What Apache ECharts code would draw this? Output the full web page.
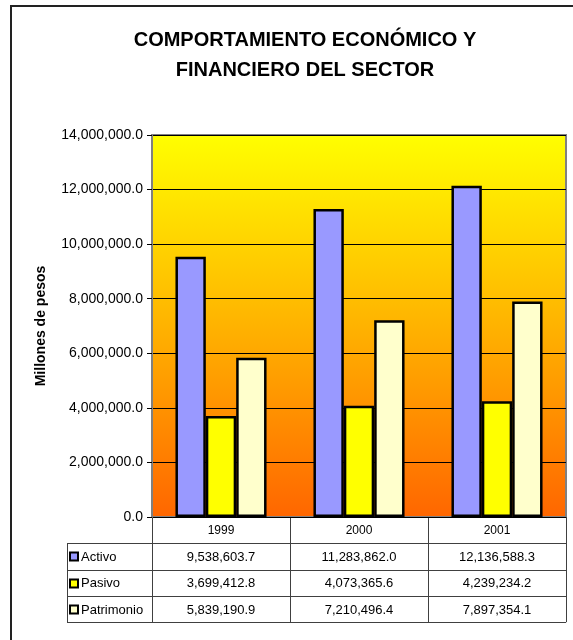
<!DOCTYPE html>
<html>
<head>
<meta charset="utf-8">
<script src="https://cdn.jsdelivr.net/npm/echarts@6/dist/echarts.min.js"></script>
<style>
html,body{margin:0;padding:0;background:#fff;}
#main{width:573px;height:640px;}
</style>
</head>
<body>
<div id="main"></div>
<script>
// ---- data ----
const categories = ['1999', '2000', '2001'];
const seriesNames = ['Activo', 'Pasivo', 'Patrimonio'];
const activo = [9538603.7, 11283862.0, 12136588.3];
const pasivo = [3699412.8, 4073365.6, 4239234.2];
const patrimonio = [5839190.9, 7210496.4, 7897354.1];
const titleLines = ['COMPORTAMIENTO ECONÓMICO Y', 'FINANCIERO DEL SECTOR'];
const yAxisName = 'Millones de pesos';
const yMin = 0, yMax = 14000000, yStep = 2000000;

// ---- styles / layout ----
const colors = ['#9999FF', '#FFFF00', '#FFFFCC'];
const FONT = '"Liberation Sans", Arial, sans-serif';
const G = { left: 152, top: 135, right: 566, bottom: 517 };
const rowH = 26.3;
const tableLeft = 67;

function fmt(v) {
  return v.toLocaleString('en-US', { minimumFractionDigits: 1, maximumFractionDigits: 1 });
}

const chart = echarts.init(document.getElementById('main'), null, { renderer: 'canvas' });
const seriesData = [activo, pasivo, patrimonio];

const graphics = [];
// outer border
graphics.push({ type: 'rect', shape: { x: 11, y: 6, width: 620, height: 700 },
  style: { fill: 'none', stroke: '#222', lineWidth: 2 }, silent: true });

const lineStyle = { stroke: '#404040', lineWidth: 1 };
const colW = (G.right - G.left) / categories.length;
const rowsBottom = G.bottom + rowH * (seriesNames.length + 1);
// horizontal lines
for (let r = 1; r <= seriesNames.length + 1; r++) {
  const y = Math.round(G.bottom + r * rowH) + 0.5;
  graphics.push({ type: 'line', shape: { x1: tableLeft, y1: y, x2: G.right, y2: y }, style: lineStyle, silent: true });
}
graphics.push({ type: 'line', shape: { x1: G.left, y1: G.bottom + 0.5, x2: G.right, y2: G.bottom + 0.5 }, style: lineStyle, silent: true });
// vertical lines
graphics.push({ type: 'line', shape: { x1: tableLeft + 0.5, y1: G.bottom + rowH, x2: tableLeft + 0.5, y2: rowsBottom }, style: lineStyle, silent: true });
for (let c = 0; c <= categories.length; c++) {
  const x = Math.round(G.left + c * colW) + 0.5;
  graphics.push({ type: 'line', shape: { x1: x, y1: G.bottom, x2: x, y2: rowsBottom }, style: lineStyle, silent: true });
}
// legend keys and values
seriesNames.forEach((name, i) => {
  const cy = G.bottom + rowH * (i + 1.5);
  graphics.push({ type: 'rect', shape: { x: 70, y: Math.round(cy - 4) + 0.5, width: 8, height: 8 },
    style: { fill: colors[i], stroke: '#000', lineWidth: 2 }, silent: true });
  graphics.push({ type: 'text', x: 81, y: cy + 1,
    style: { text: name, font: '13px ' + FONT, fill: '#000', verticalAlign: 'middle', align: 'left' }, silent: true });
  seriesData[i].forEach((v, j) => {
    graphics.push({ type: 'text', x: G.left + colW * (j + 0.5), y: cy + 1,
      style: { text: fmt(v), font: '13px ' + FONT, fill: '#000', verticalAlign: 'middle', align: 'center' }, silent: true });
  });
});

chart.setOption({
  animation: false,
  backgroundColor: '#fff',
  title: [
    { text: titleLines[0], left: 300, top: 25, textAlign: 'center',
      textStyle: { fontFamily: FONT, fontWeight: 'bold', fontSize: 20, color: '#000' } },
    { text: titleLines[1], left: 300, top: 55, textAlign: 'center',
      textStyle: { fontFamily: FONT, fontWeight: 'bold', fontSize: 20, color: '#000' } }
  ],
  grid: {
    left: G.left, top: G.top, right: 573 - G.right, bottom: 640 - G.bottom,
    show: true, borderColor: '#808080', borderWidth: 2,
    backgroundColor: new echarts.graphic.LinearGradient(0, 0, 0, 1, [
      { offset: 0, color: '#FFFF00' }, { offset: 1, color: '#FF6600' }
    ])
  },
  xAxis: {
    type: 'category', data: categories,
    axisLine: { show: false }, axisTick: { show: false },
    axisLabel: { margin: 8, fontFamily: FONT, fontSize: 12, color: '#000' }
  },
  yAxis: {
    type: 'value', min: yMin, max: yMax, interval: yStep,
    name: yAxisName, nameLocation: 'middle', nameGap: 104, nameRotate: 90,
    nameTextStyle: { fontFamily: FONT, fontWeight: 'bold', fontSize: 14, color: '#000' },
    axisLine: { show: true, lineStyle: { color: '#808080', width: 2 } },
    axisTick: { show: true, length: 5, lineStyle: { color: '#000' } },
    axisLabel: { margin: 9, fontFamily: FONT, fontSize: 14, color: '#000', formatter: v => fmt(v) },
    splitLine: { show: true, lineStyle: { color: '#000', width: 1 } }
  },
  series: seriesNames.map((name, i) => ({
    name, type: 'bar', data: seriesData[i],
    barGap: '0%', barCategoryGap: '34%',
    itemStyle: { color: colors[i], borderColor: '#000', borderWidth: 2.5 }
  })),
  graphic: graphics
});
</script>
</body>
</html>
